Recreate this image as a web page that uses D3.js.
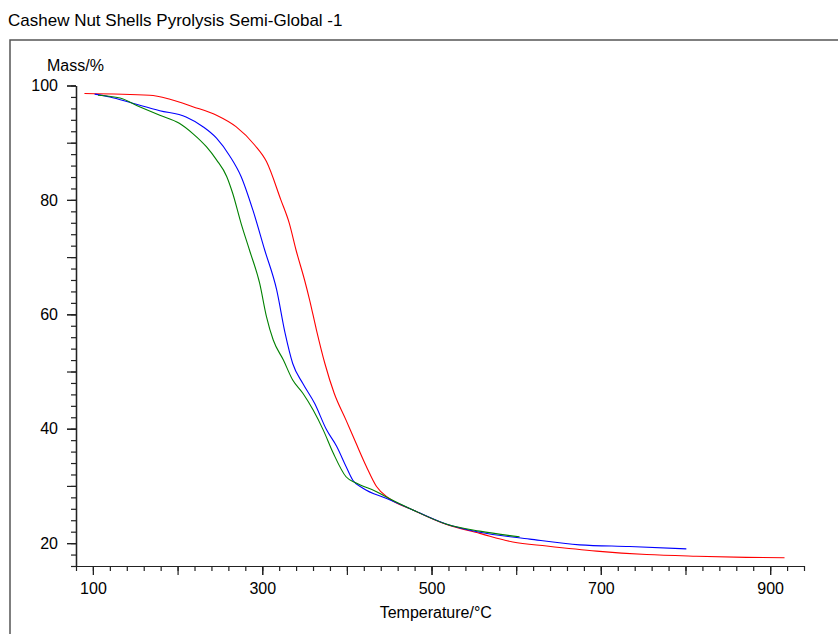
<!DOCTYPE html>
<html>
<head>
<meta charset="utf-8">
<script src="https://cdn.jsdelivr.net/npm/d3@7"></script>
<style>
  body { margin: 0; background: #fff; }
  svg text { font-family: "Liberation Sans", Arial, sans-serif; fill: #000; }
</style>
</head>
<body>
<div id="chart"></div>
<script>
const WIDTH = 838, HEIGHT = 634;
const MARGIN = { LEFT: 76, RIGHT: 34, TOP: 85.5, BOTTOM: 68 };

const title = "Cashew Nut Shells Pyrolysis Semi-Global -1";
const xTitle = "Temperature/°C";
const yTitle = "Mass/%";

const xLabelTicks = [100, 300, 500, 700, 900];
const yLabelTicks = [20, 40, 60, 80, 100];

// red run
const redTemp = [90, 167, 191, 218, 246, 269, 291, 305, 322, 332, 340, 350, 356, 364, 374, 385, 399, 411, 423, 435, 450, 478, 517, 557, 596, 636, 695, 754, 813, 872, 917];
const redMass = [98.6, 98.3, 97.6, 96.3, 94.8, 92.8, 89.6, 86.7, 80, 75.9, 71.2, 66, 62.5, 57.3, 51.4, 46.2, 41.5, 37.4, 33.4, 29.9, 27.8, 25.8, 23.3, 21.7, 20.2, 19.5, 18.6, 18.0, 17.7, 17.5, 17.45];

// blue run
const blueTemp = [102, 120, 147, 179, 210, 230, 246, 262, 275, 289, 303, 317, 327, 336, 348, 362, 376, 388, 399, 407, 419, 447, 478, 518, 557, 616, 675, 734, 801];
const blueMass = [98.5, 98.0, 96.9, 95.6, 94.5, 92.8, 90.8, 87.6, 84.1, 78.2, 71.2, 64.3, 56.7, 51.4, 47.9, 44.4, 39.8, 36.9, 33.4, 31.0, 29.6, 27.8, 25.8, 23.3, 21.9, 20.7, 19.7, 19.4, 19.0];

// green run
const greenTemp = [106, 132, 155, 179, 202, 218, 234, 246, 258, 265, 275, 285, 297, 305, 313, 325, 336, 348, 360, 372, 384, 399, 411, 435, 450, 478, 518, 557, 604];
const greenMass = [98.3, 97.8, 96.3, 94.8, 93.4, 91.6, 89.3, 87.0, 84.1, 81.2, 75.9, 71.2, 65.4, 59.6, 55.5, 52.0, 48.5, 46.2, 43.3, 39.8, 35.7, 31.6, 30.5, 29.0, 27.8, 25.8, 23.3, 22.1, 21.1];

const series = [
  { color: "#ff0000", temp: redTemp, mass: redMass },
  { color: "#0000ff", temp: blueTemp, mass: blueMass },
  { color: "#008000", temp: greenTemp, mass: greenMass }
];

const svg = d3.select("#chart").append("svg")
  .attr("width", WIDTH)
  .attr("height", HEIGHT);

// frame (left and top edges)
svg.append("path")
  .attr("d", `M10,${HEIGHT} V40 H${WIDTH}`)
  .attr("fill", "none")
  .attr("stroke", "#555")
  .attr("stroke-width", 1.5);

svg.append("text")
  .attr("x", 8).attr("y", 26)
  .attr("font-size", "17px")
  .text(title);

const innerW = WIDTH - MARGIN.LEFT - MARGIN.RIGHT;
const innerH = HEIGHT - MARGIN.TOP - MARGIN.BOTTOM;

const x = d3.scaleLinear().domain([80, 940]).range([0, innerW]);
const y = d3.scaleLinear().domain([16, 100]).range([innerH, 0]);

const g = svg.append("g").attr("transform", `translate(${MARGIN.LEFT},${MARGIN.TOP})`);

// x axis: minor, major, labels
g.append("g").attr("transform", `translate(0,${innerH})`)
  .call(d3.axisBottom(x).tickValues(d3.range(80, 941, 20)).tickSize(5).tickSizeOuter(0).tickFormat(""));
g.append("g").attr("transform", `translate(0,${innerH})`)
  .call(d3.axisBottom(x).tickValues(d3.range(100, 901, 100)).tickSize(9).tickSizeOuter(0).tickFormat(""));
g.append("g").attr("transform", `translate(0,${innerH})`)
  .call(d3.axisBottom(x).tickValues(xLabelTicks).tickSize(9).tickPadding(8).tickSizeOuter(0))
  .selectAll("text").attr("font-size", "16px");

// y axis: minor, major, labels
g.append("g")
  .call(d3.axisLeft(y).tickValues(d3.range(16, 101, 2)).tickSize(5).tickSizeOuter(0).tickFormat(""));
g.append("g")
  .call(d3.axisLeft(y).tickValues(d3.range(20, 101, 10)).tickSize(9).tickSizeOuter(0).tickFormat(""));
g.append("g")
  .call(d3.axisLeft(y).tickValues(yLabelTicks).tickSize(9).tickPadding(9).tickSizeOuter(0))
  .selectAll("text").attr("font-size", "16px");

g.selectAll(".domain, .tick line").attr("stroke", "#222").attr("stroke-width", 1.2);
g.selectAll(".tick text").attr("font-family", "Liberation Sans, Arial, sans-serif").attr("fill", "#000");

// axis titles
svg.append("text")
  .attr("x", MARGIN.LEFT + x(505)).attr("y", 618)
  .attr("text-anchor", "middle")
  .attr("font-size", "16px")
  .text(xTitle);

svg.append("text")
  .attr("x", 47).attr("y", 71)
  .attr("font-size", "16px")
  .text(yTitle);

const line = d3.line()
  .x(d => x(d[0]))
  .y(d => y(d[1]))
  .curve(d3.curveMonotoneX);

g.selectAll(".curve")
  .data(series)
  .enter().append("path")
  .attr("class", "curve")
  .attr("fill", "none")
  .attr("stroke", d => d.color)
  .attr("stroke-width", 1.1)
  .attr("d", d => line(d.temp.map((t, i) => [t, d.mass[i]])));
</script>
</body>
</html>
